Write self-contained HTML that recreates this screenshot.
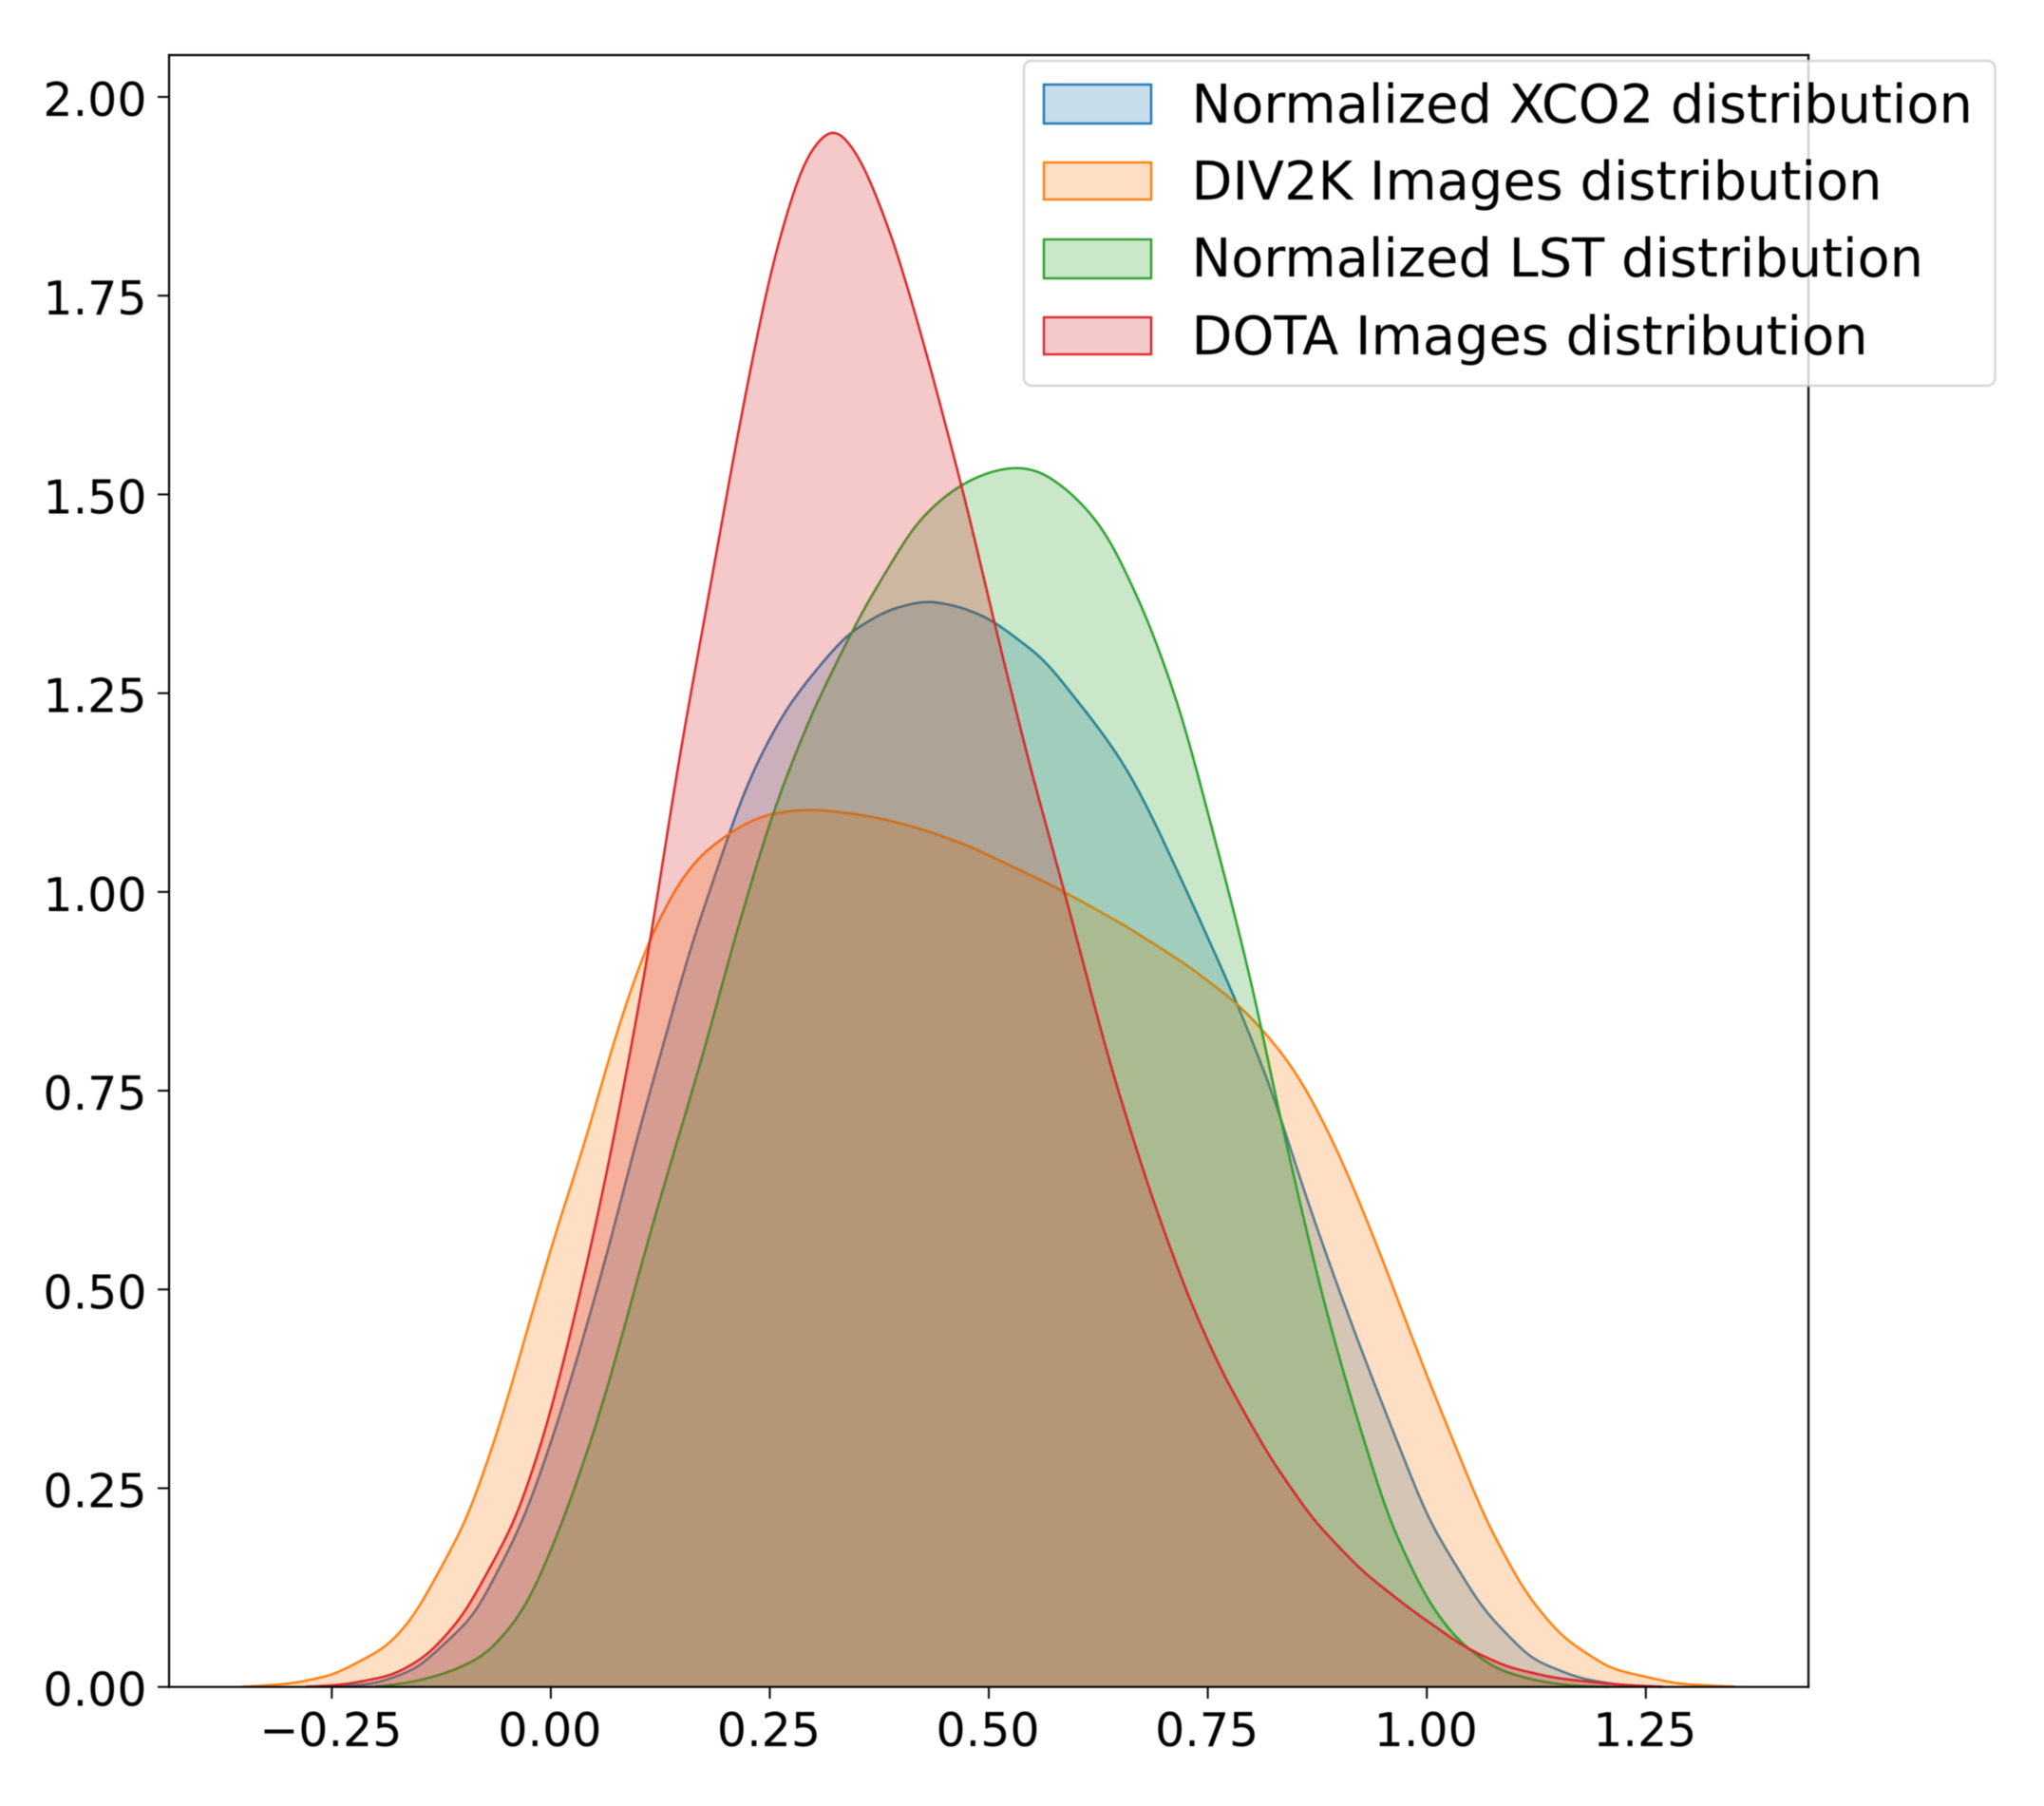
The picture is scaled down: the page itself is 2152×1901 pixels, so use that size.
<!DOCTYPE html>
<html lang="en">
<head>
<meta charset="utf-8">
<title>KDE distributions chart</title>
<style>
  html, body { margin: 0; padding: 0; background: #ffffff; }
  svg { display: block; filter: blur(0.65px); }
  text { font-family: "DejaVu Sans", "Liberation Sans", sans-serif; fill: #000000; }
</style>
</head>
<body>
<svg id="chart" xmlns="http://www.w3.org/2000/svg" width="2152" height="1901" viewBox="0 0 2152 1901">
  <rect x="0" y="0" width="2152" height="1901" fill="#ffffff"></rect>
  <g id="series-layer"></g>
  <g id="axes-layer"></g>
  <g id="legend">
    <rect x="1078" y="64" width="1022.5" height="342" rx="8" ry="8" fill="#ffffff" fill-opacity="0.8" stroke="#cccccc" stroke-opacity="0.8" stroke-width="2.4"></rect>
    <g>
      <rect x="1099" y="89" width="113" height="41" fill="#1f77b4" fill-opacity="0.25" stroke="#1f77b4" stroke-width="2.4"></rect>
      <text x="1254.5" y="129" font-size="55.8">Normalized XCO2 distribution</text>
    </g>
    <g>
      <rect x="1099" y="171" width="113" height="39" fill="#ff7f0e" fill-opacity="0.25" stroke="#ff7f0e" stroke-width="2.4"></rect>
      <text x="1254.5" y="210" font-size="55.8">DIV2K Images distribution</text>
    </g>
    <g>
      <rect x="1099" y="252" width="113" height="41" fill="#2ca02c" fill-opacity="0.25" stroke="#2ca02c" stroke-width="2.4"></rect>
      <text x="1254.5" y="291" font-size="55.8">Normalized LST distribution</text>
    </g>
    <g>
      <rect x="1099" y="334" width="113" height="39" fill="#d62728" fill-opacity="0.25" stroke="#d62728" stroke-width="2.4"></rect>
      <text x="1254.5" y="373" font-size="55.8">DOTA Images distribution</text>
    </g>
  </g>
</svg>
<script>
// Tick values and labels
const xTickValues = [-0.25, 0, 0.25, 0.5, 0.75, 1, 1.25];
const xTickLabels = ["\u22120.25", "0.00", "0.25", "0.50", "0.75", "1.00", "1.25"];
const yTickValues = [0, 0.25, 0.5, 0.75, 1, 1.25, 1.5, 1.75, 2];
const yTickLabels = ["0.00", "0.25", "0.50", "0.75", "1.00", "1.25", "1.50", "1.75", "2.00"];

// Series: sample location and density
const xco2X = [-0.25, -0.2, -0.152, -0.0866, -0.0306, 0.0074, 0.0399, 0.07, 0.0977, 0.1284, 0.1584, 0.1953, 0.2134, 0.2351, 0.2693, 0.307, 0.34, 0.385, 0.429, 0.47, 0.504, 0.563, 0.623, 0.655, 0.682, 0.732, 0.7808, 0.8241, 0.8585, 0.8965, 0.9373, 1.0017, 1.0637, 1.119, 1.174, 1.216, 1.27];
const xco2Y = [0, 0.004, 0.023, 0.09, 0.21, 0.33, 0.449, 0.568, 0.688, 0.8075, 0.927, 1.046, 1.106, 1.163, 1.232, 1.285, 1.326, 1.355, 1.367, 1.358, 1.342, 1.293, 1.21, 1.16, 1.105, 0.9866, 0.867, 0.7477, 0.628, 0.5087, 0.389, 0.21, 0.098, 0.035, 0.011, 0.003, 0];

const div2kX = [-0.352, -0.297, -0.248, -0.186, -0.155, -0.0957, -0.0577, -0.027, 0.0044, 0.04, 0.0706, 0.0904, 0.112, 0.1248, 0.1429, 0.17, 0.1989, 0.2278, 0.2567, 0.2965, 0.3435, 0.3868, 0.4265, 0.4772, 0.578, 0.652, 0.7266, 0.7844, 0.8122, 0.8423, 0.8658, 0.8892, 0.9127, 0.9469, 1.0008, 1.067, 1.1125, 1.154, 1.209, 1.285, 1.354];
const div2kY = [0, 0.004, 0.015, 0.051, 0.09, 0.21, 0.33, 0.449, 0.568, 0.688, 0.8075, 0.875, 0.94, 0.967, 1.007, 1.046, 1.07, 1.09, 1.1, 1.104, 1.099, 1.09, 1.078, 1.058, 1.005, 0.96, 0.908, 0.859, 0.827, 0.787, 0.745, 0.695, 0.638, 0.545, 0.389, 0.21, 0.118, 0.063, 0.023, 0.004, 0];

const lstX = [-0.2, -0.158, -0.117, -0.0755, -0.0414, -0.0202, 0.0145, 0.0525, 0.0833, 0.1104, 0.1447, 0.1771, 0.2061, 0.2351, 0.2549, 0.2766, 0.2983, 0.3247, 0.355, 0.414, 0.445, 0.474, 0.505, 0.533, 0.56, 0.585, 0.61, 0.638, 0.682, 0.72, 0.7772, 0.8043, 0.826, 0.8513, 0.8765, 0.9062, 0.9565, 1.0017, 1.0364, 1.078, 1.119, 1.16, 1.21];
const lstY = [0, 0.006, 0.018, 0.039, 0.08, 0.118, 0.21, 0.33, 0.449, 0.56, 0.688, 0.8075, 0.927, 1.035, 1.105, 1.166, 1.226, 1.285, 1.352, 1.46, 1.494, 1.516, 1.53, 1.535, 1.529, 1.51, 1.485, 1.445, 1.342, 1.225, 0.9866, 0.867, 0.7477, 0.628, 0.5087, 0.389, 0.21, 0.106, 0.057, 0.023, 0.009, 0.002, 0];

const dotaX = [-0.28, -0.235, -0.179, -0.14, -0.0993, -0.0397, -0.0035, 0.0236, 0.0489, 0.0717, 0.0923, 0.1122, 0.1291, 0.1457, 0.1657, 0.184, 0.213, 0.251, 0.288, 0.323, 0.355, 0.392, 0.429, 0.474, 0.511, 0.548, 0.585, 0.638, 0.682, 0.7266, 0.7664, 0.82, 0.8704, 0.9257, 0.981, 1.043, 1.0916, 1.147, 1.216, 1.27];
const dotaY = [0, 0.003, 0.015, 0.04, 0.09, 0.21, 0.33, 0.449, 0.568, 0.688, 0.8075, 0.927, 1.046, 1.166, 1.285, 1.395, 1.575, 1.785, 1.922, 1.968, 1.922, 1.818, 1.678, 1.49, 1.317, 1.153, 1.006, 0.784, 0.629, 0.493, 0.395, 0.29, 0.21, 0.146, 0.098, 0.05, 0.025, 0.011, 0.003, 0];

// Axis functions
function xScale(v) { return 579.9 + v * 922.3; }
function yScale(v) { return 1775.7 - v * 836.85; }

const svgNS = 'http://www.w3.org/2000/svg';
const seriesLayer = document.getElementById('series-layer');
const axesLayer = document.getElementById('axes-layer');

function densityAt(xs, ys, v) {
  if (v <= xs[0] || v >= xs[xs.length - 1]) { return 0; }
  let i = 0;
  while (xs[i + 1] < v) { i++; }
  const t = (v - xs[i]) / (xs[i + 1] - xs[i]);
  return ys[i] + (ys[i + 1] - ys[i]) * t;
}

// KDE-like rendering: the read values are lightly smoothed along x
function smoothPath(xs, ys) {
  const step = 0.004;
  const sigma = 0.012;
  const reach = 3 * sigma;
  const points = [];
  const first = xs[0];
  const last = xs[xs.length - 1];
  for (let v = first; v < last + step / 2; v += step) {
    let sum = 0;
    let weightSum = 0;
    for (let u = -reach; u <= reach + 1e-9; u += step) {
      const w = Math.exp(-(u * u) / (2 * sigma * sigma));
      sum += w * densityAt(xs, ys, v + u);
      weightSum += w;
    }
    points.push(xScale(v).toFixed(2) + ' ' + yScale(sum / weightSum).toFixed(2));
  }
  return 'M' + points.join('L');
}

function drawSeries(key, xs, ys, color) {
  const line = smoothPath(xs, ys);
  const baseLeft = xScale(xs[0]).toFixed(2);
  const baseRight = xScale(xs[xs.length - 1]).toFixed(2);
  const base = yScale(0).toFixed(2);

  const fill = document.createElementNS(svgNS, 'path');
  
  
  fill.setAttribute('d', line + 'L' + baseRight + ' ' + base + 'L' + baseLeft + ' ' + base + 'Z');
  fill.setAttribute('fill', color);
  fill.setAttribute('fill-opacity', '0.25');
  seriesLayer.appendChild(fill);

  const stroke = document.createElementNS(svgNS, 'path');
  
  
  stroke.setAttribute('d', line);
  stroke.setAttribute('fill', 'none');
  stroke.setAttribute('stroke', color);
  stroke.setAttribute('stroke-width', '2.5');
  stroke.setAttribute('stroke-linejoin', 'round');
  seriesLayer.appendChild(stroke);
}

drawSeries('xco2', xco2X, xco2Y, '#1f77b4');
drawSeries('div2k', div2kX, div2kY, '#ff7f0e');
drawSeries('lst', lstX, lstY, '#2ca02c');
drawSeries('dota', dotaX, dotaY, '#d62728');

function addLine(name, x1, y1, x2, y2, width) {
  const l = document.createElementNS(svgNS, 'line');
  
  
  l.setAttribute('x1', x1);
  l.setAttribute('y1', y1);
  l.setAttribute('x2', x2);
  l.setAttribute('y2', y2);
  l.setAttribute('stroke', '#000000');
  l.setAttribute('stroke-width', width);
  l.setAttribute('stroke-linecap', 'square');
  axesLayer.appendChild(l);
}

function addLabel(name, x, y, anchor, content) {
  const t = document.createElementNS(svgNS, 'text');
  
  
  t.setAttribute('x', x);
  t.setAttribute('y', y);
  t.setAttribute('text-anchor', anchor);
  t.setAttribute('font-size', '49');
  t.textContent = content;
  axesLayer.appendChild(t);
}

addLine('left-spine', 178, 58, 178, 1775.7, 2.2);
addLine('right-spine', 1904, 58, 1904, 1775.7, 2.2);
addLine('top-spine', 178, 58, 1904, 58, 2.2);
addLine('bottom-spine', 178, 1775.7, 1904, 1775.7, 2.2);

xTickValues.forEach(function (v, i) {
  const x = xScale(v);
  addLine('x-tick-mark', x, 1776, x, 1787, 2);
  addLabel('x-tick-label', x - 1, 1838, 'middle', xTickLabels[i]);
});

yTickValues.forEach(function (v, i) {
  const y = yScale(v);
  addLine('y-tick-mark', 167, y, 178, y, 2);
  addLabel('y-tick-label', 154.5, y + 20, 'end', yTickLabels[i]);
});
</script>
</body>
</html>
